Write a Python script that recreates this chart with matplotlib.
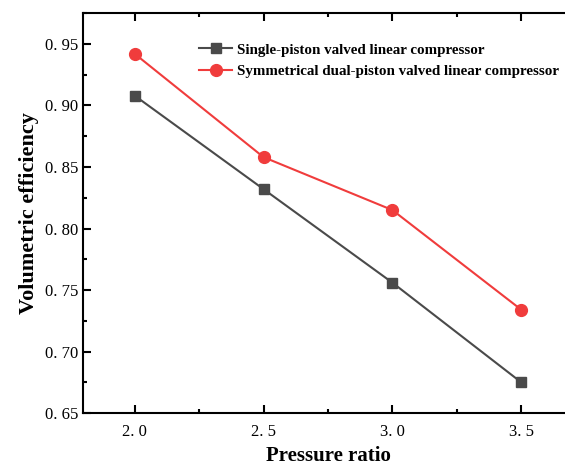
import matplotlib.pyplot as plt
from matplotlib.ticker import MultipleLocator, FuncFormatter

pressure_ratio = [2.0, 2.5, 3.0, 3.5]
single_piston = [0.908, 0.832, 0.756, 0.675]
dual_piston = [0.942, 0.858, 0.815, 0.734]

label_single = 'Single-piston valved linear compressor'
label_dual = 'Symmetrical dual-piston valved linear compressor'

plt.rcParams['font.family'] = ['Liberation Serif', 'DejaVu Serif']

fig = plt.figure(figsize=(5.65, 4.69), dpi=100)
ax = fig.add_axes([0.147, 0.119, 0.867, 0.853])

ax.plot(pressure_ratio, single_piston, color='#4a4a4a', marker='s', markersize=7,
        linewidth=1.5, label=label_single)
ax.plot(pressure_ratio, dual_piston, color='#f03c3c', marker='o', markersize=8.5,
        linewidth=1.5, label=label_dual)

ax.set_xlim(1.8, 3.7)
ax.set_ylim(0.65, 0.975)
ax.xaxis.set_major_locator(MultipleLocator(0.5))
ax.xaxis.set_minor_locator(MultipleLocator(0.25))
ax.yaxis.set_major_locator(MultipleLocator(0.05))
ax.yaxis.set_minor_locator(MultipleLocator(0.025))
ax.xaxis.set_major_formatter(FuncFormatter(lambda v, p: f'{v:.1f}'.replace('.', '. ')))
ax.yaxis.set_major_formatter(FuncFormatter(lambda v, p: f'{v:.2f}'.replace('.', '. ')))
ax.tick_params(which='both', direction='in', top=True, right=True, labelsize=12, width=1.5)
ax.tick_params(which='major', length=6)
ax.tick_params(which='minor', length=3)
ax.tick_params(axis='x', pad=8)
for s in ax.spines.values():
    s.set_linewidth(1.5)

ax.set_xlabel('Pressure ratio', fontsize=15, fontweight='bold', labelpad=4)
ax.set_ylabel('Volumetric efficiency', fontsize=16, fontweight='bold', labelpad=4)

ax.legend(loc='upper left', bbox_to_anchor=(0.225, 0.94), frameon=False,
          prop={'weight': 'bold', 'size': 10.8}, handlelength=2.2, handletextpad=0.3,
          labelspacing=0.55, borderaxespad=0)

fig.savefig('out.png', dpi=100)
